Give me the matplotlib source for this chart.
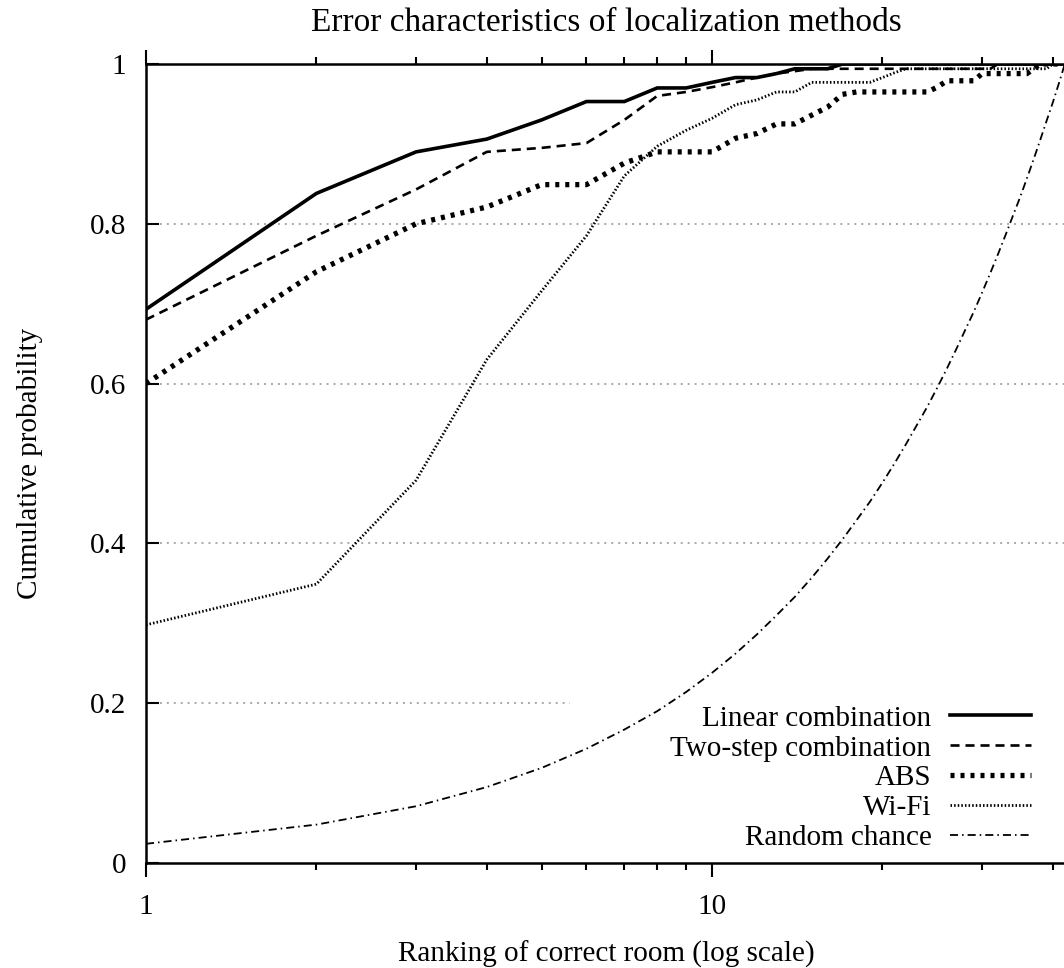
import matplotlib
matplotlib.use("Agg")
import matplotlib.pyplot as plt
from matplotlib.ticker import FixedLocator, NullFormatter

# rank of the correct room, 1..42
ranks = list(range(1, 43))

linear_comb = [0.693, 0.838, 0.890, 0.906, 0.930, 0.953, 0.953, 0.970, 0.970, 0.977,
               0.983, 0.983, 0.988, 0.994, 0.994, 0.994, 1.0, 1.0, 1.0, 1.0,
               1.0, 1.0, 1.0, 1.0, 1.0, 1.0, 1.0, 1.0, 1.0, 1.0,
               1.0, 1.0, 1.0, 1.0, 1.0, 1.0, 1.0, 1.0, 1.0, 1.0,
               1.0, 1.0]
two_step = [0.680, 0.785, 0.843, 0.890, 0.895, 0.901, 0.930, 0.960, 0.965, 0.971,
            0.977, 0.983, 0.988, 0.991, 0.994, 0.994, 0.994, 0.994, 0.994, 0.994,
            0.994, 0.994, 0.994, 0.994, 0.994, 0.994, 0.994, 0.994, 0.994, 0.994,
            0.994, 1.0, 1.0, 1.0, 1.0, 1.0, 1.0, 1.0, 1.0, 1.0,
            1.0, 1.0]
abs_method = [0.600, 0.740, 0.800, 0.821, 0.849, 0.849, 0.876, 0.890, 0.890, 0.890,
              0.907, 0.913, 0.925, 0.925, 0.936, 0.946, 0.962, 0.965, 0.965, 0.965,
              0.965, 0.965, 0.965, 0.965, 0.971, 0.979, 0.979, 0.979, 0.979, 0.988,
              0.988, 0.988, 0.988, 0.988, 0.988, 0.988, 0.994, 1.0, 1.0, 1.0,
              1.0, 1.0]
wifi = [0.298, 0.349, 0.479, 0.630, 0.716, 0.785, 0.860, 0.897, 0.917, 0.932,
        0.949, 0.955, 0.965, 0.965, 0.977, 0.977, 0.977, 0.977, 0.977, 0.983,
        0.989, 0.994, 0.994, 0.994, 0.994, 0.994, 0.994, 0.994, 0.994, 0.994,
        0.994, 0.994, 0.994, 0.994, 0.994, 0.994, 0.994, 0.994, 0.994, 1.0,
        1.0, 1.0]
random_chance = [0.024, 0.048, 0.071, 0.095, 0.119, 0.143, 0.167, 0.190, 0.214, 0.238,
                 0.262, 0.286, 0.310, 0.333, 0.357, 0.381, 0.405, 0.429, 0.452, 0.476,
                 0.500, 0.524, 0.548, 0.571, 0.595, 0.619, 0.643, 0.667, 0.690, 0.714,
                 0.738, 0.762, 0.786, 0.810, 0.833, 0.857, 0.881, 0.905, 0.929, 0.952,
                 0.976, 1.000]

y_ticks = [0, 0.2, 0.4, 0.6, 0.8, 1]
y_ticklabels = ["0", "0.2", "0.4", "0.6", "0.8", "1"]
x_major = [1, 10]
x_minor = [2, 3, 4, 5, 6, 7, 8, 9, 20, 30, 40]

plt.rcParams['font.family'] = ['Liberation Serif', 'DejaVu Serif']
plt.rcParams['font.size'] = 21
plt.rcParams['lines.scale_dashes'] = False

fig = plt.figure(figsize=(10.64, 9.68), dpi=100)
ax = fig.add_axes([0.1372, 0.1085, 1.003 - 0.1372, 0.8254])

# horizontal grid, the lowest one stops short of the key
grid_style = dict(color='#999999', lw=1.2, dashes=(1.4, 3.6), zorder=0)
for g in [0.4, 0.6, 0.8]:
    ax.axhline(g, **grid_style)
ax.axhline(0.2, xmax=0.46, **grid_style)

ax.plot(ranks, linear_comb, color='black', lw=2.6, solid_joinstyle='miter',
        label='Linear combination')
ax.plot(ranks, two_step, color='black', lw=1.9, dashes=(6.5, 4.3),
        label='Two-step combination')
ax.plot(ranks, abs_method, color='black', lw=3.8, dashes=(2.9, 4.3),
        label='ABS')
ax.plot(ranks, wifi, color='black', lw=2.0, dashes=(1.1, 1.5),
        label='Wi-Fi')
ax.plot(ranks, random_chance, color='black', lw=1.3,
        dashes=(5.8, 2.9, 1.1, 2.9), label='Random chance')

ax.set_xscale('log')
ax.set_xlim(1, 42.4)
ax.set_ylim(0, 1)

ax.xaxis.set_major_locator(FixedLocator(x_major))
ax.xaxis.set_minor_locator(FixedLocator(x_minor))
ax.xaxis.set_minor_formatter(NullFormatter())
ax.set_xticklabels(["1", "10"])
ax.tick_params(axis='x', which='major', direction='out', length=10, width=1.5,
               top=True, pad=12)
ax.tick_params(axis='x', which='minor', direction='out', length=5, width=1.5,
               top=True)

ax.set_yticks(y_ticks)
ax.set_yticklabels(y_ticklabels)
ax.tick_params(axis='y', which='major', direction='in', length=9, width=1.5,
               right=False, pad=14)

for side in ['left', 'bottom', 'top', 'right']:
    ax.spines[side].set_linewidth(1.8)

ax.set_title('Error characteristics of localization methods', fontsize=24, pad=24)
ax.set_xlabel('Ranking of correct room (log scale)', labelpad=15)
ax.set_ylabel('Cumulative probability', labelpad=34)

ax.legend(loc='lower right', bbox_to_anchor=(0.973, 0.0), markerfirst=False,
          frameon=False, handlelength=2.75, handletextpad=0.65,
          labelspacing=0.12, borderaxespad=0.0)

fig.savefig('out.png', dpi=100)
